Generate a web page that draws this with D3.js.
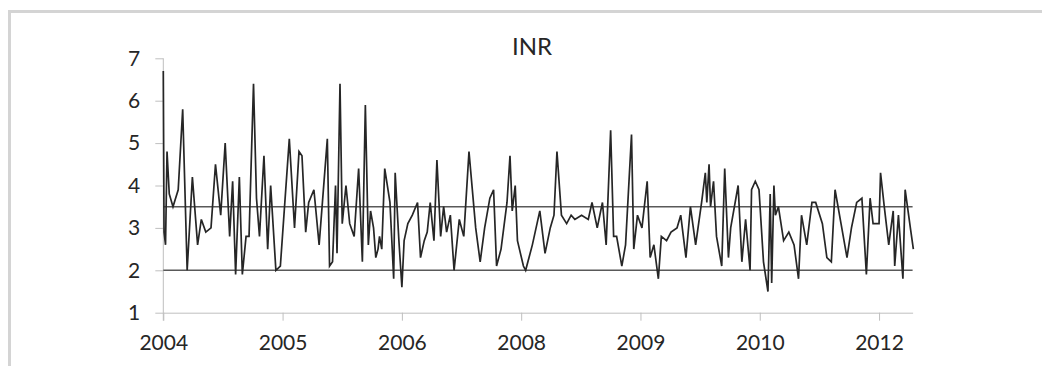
<!DOCTYPE html>
<html>
<head>
<meta charset="utf-8">
<script src="https://cdn.jsdelivr.net/npm/d3@7"></script>
<style>
  body { margin: 0; background: #fff; }
  #chart text { font-family: Lato, "Open Sans", sans-serif; fill: #262626; }
</style>
</head>
<body>
<div id="chart"></div>
<script>
// months since Jan 2004 and INR value
const months = [
  0.0, 0.1, 0.3, 0.5, 0.8, 1.3, 2.0, 2.6, 3.2, 3.9, 4.6, 5.1, 5.7, 6.4, 7.0, 7.7, 8.3, 8.9, 9.3, 9.7,
  10.2, 10.6, 11.1, 11.5, 12.1, 12.5, 12.9, 13.5, 14.0, 14.4, 15.1, 15.7, 16.9, 17.6, 18.2, 18.6, 19.1, 19.5, 20.2, 20.9,
  22.0, 22.3, 22.7, 23.1, 23.3, 23.7, 24.0, 24.5, 25.0, 25.6, 26.2, 26.7, 27.1, 27.5, 27.8, 28.2, 28.5, 28.8, 29.0, 29.3,
  29.7, 30.4, 30.9, 31.1, 31.6, 32.0, 32.3, 32.8, 33.4, 34.1, 34.5, 35.0, 35.4, 35.8, 36.3, 36.7, 37.2, 37.6, 38.0, 38.5,
  39.0, 39.7, 40.3, 41.0, 41.9, 42.5, 43.1, 43.8, 44.3, 44.7, 45.3, 46.1, 46.5, 46.8, 47.2, 47.5, 48.3, 48.6, 49.5, 50.5,
  51.2, 51.9, 52.4, 52.8, 53.4, 54.1, 54.7, 55.2, 56.1, 57.0, 57.5, 58.2, 58.9, 59.4, 60.0, 60.4, 60.8, 61.5, 62.0, 62.8,
  63.1, 63.6, 64.2, 64.9, 65.3, 65.8, 66.4, 66.8, 67.5, 68.1, 68.9, 69.4, 70.1, 70.7, 71.4, 72.2, 72.7, 72.9, 73.2, 73.4,
  73.8, 74.2, 74.9, 75.3, 75.8, 76.1, 77.1, 77.6, 78.1, 78.7, 78.9, 79.4, 79.9, 80.5, 81.1, 81.4, 81.6, 81.9, 82.1, 82.5,
  83.2, 83.9, 84.6, 85.2, 85.6, 86.3, 87.0, 87.5, 88.4, 89.0, 89.6, 90.1, 90.9, 91.7, 92.3, 93.0, 93.7, 94.3, 94.8, 95.2,
  96.0, 96.2, 96.7, 97.3, 97.9, 98.1, 98.6, 99.2, 99.5, 100.2, 100.6
];
const inr = [
  6.7, 2.9, 2.6, 4.8, 3.8, 3.5, 3.9, 5.8, 2.0, 4.2, 2.6, 3.2, 2.9, 3.0, 4.5, 3.3, 5.0, 2.8, 4.1, 1.9,
  4.2, 1.9, 2.8, 2.8, 6.4, 3.7, 2.8, 4.7, 2.5, 4.0, 2.0, 2.1, 5.1, 3.0, 4.8, 4.7, 2.9, 3.6, 3.9, 2.6,
  5.1, 2.1, 2.2, 4.0, 2.4, 6.4, 3.1, 4.0, 3.1, 2.8, 4.4, 2.2, 5.9, 2.6, 3.4, 3.0, 2.3, 2.5, 2.8, 2.5,
  4.4, 3.6, 1.8, 4.3, 2.7, 1.6, 2.7, 3.1, 3.3, 3.6, 2.3, 2.7, 2.9, 3.6, 2.7, 4.6, 2.8, 3.5, 2.9, 3.3,
  2.0, 3.2, 2.8, 4.8, 3.0, 2.2, 3.0, 3.7, 3.9, 2.1, 2.5, 3.6, 4.7, 3.4, 4.0, 2.7, 2.1, 2.0, 2.6, 3.4,
  2.4, 3.0, 3.3, 4.8, 3.3, 3.1, 3.3, 3.2, 3.3, 3.2, 3.6, 3.0, 3.6, 2.6, 5.3, 2.8, 2.8, 2.1, 2.6, 5.2,
  2.5, 3.3, 3.0, 4.1, 2.3, 2.6, 1.8, 2.8, 2.7, 2.9, 3.0, 3.3, 2.3, 3.5, 2.6, 3.6, 4.3, 3.6, 4.5, 3.5,
  4.1, 2.8, 2.1, 4.4, 2.3, 3.0, 4.0, 2.2, 3.2, 2.0, 3.9, 4.1, 3.9, 2.2, 1.5, 3.8, 1.7, 4.0, 3.3, 3.5,
  2.7, 2.9, 2.6, 1.8, 3.3, 2.6, 3.6, 3.6, 3.1, 2.3, 2.2, 3.9, 3.1, 2.3, 3.0, 3.6, 3.7, 1.9, 3.7, 3.1,
  3.1, 4.3, 3.5, 2.6, 3.4, 2.1, 3.3, 1.8, 3.9, 3.0, 2.5
];
const refLevels = [2, 3.5];
const yTicks = [1, 2, 3, 4, 5, 6, 7];
const xTickMonths = [0, 16, 32, 48, 64, 80, 96];
const xTickLabels = ["2004", "2005", "2006", "2008", "2009", "2010", "2012"];

const width = 1042, height = 366;
const svg = d3.select("#chart").append("svg")
  .attr("width", width)
  .attr("height", height);

// chart frame (cut off on the right and bottom)
svg.append("rect")
  .attr("x", 9.5).attr("y", 11.5)
  .attr("width", 1100).attr("height", 400)
  .attr("fill", "none")
  .attr("stroke", "#d4d4d4")
  .attr("stroke-width", 3);

const x = d3.scaleLinear().domain([0, 100.5]).range([163.3, 912.6]);
const y = d3.scaleLinear().domain([1, 7]).range([312.7, 58.3]);

const yAxis = svg.append("g")
  .attr("transform", "translate(163.3,0)")
  .call(d3.axisLeft(y).tickValues(yTicks).tickFormat(d3.format("d"))
    .tickSize(8).tickSizeOuter(0).tickPadding(15));
yAxis.select(".domain").remove();
yAxis.selectAll(".tick line").attr("stroke", "#bfbfbf");
yAxis.selectAll("text").style("font-size", "21px");

const xAxis = svg.append("g")
  .attr("transform", "translate(0,312.7)")
  .call(d3.axisBottom(x).tickValues(xTickMonths).tickFormat((d, i) => xTickLabels[i])
    .tickSize(8).tickSizeOuter(0).tickPadding(14));
xAxis.select(".domain").attr("stroke", "#bfbfbf");
xAxis.selectAll(".tick line").attr("stroke", "#bfbfbf");
xAxis.selectAll("text").style("font-size", "21px");

// vertical axis line
svg.append("line")
  .attr("x1", x(0)).attr("x2", x(0))
  .attr("y1", y(7)).attr("y2", y(1) + 8)
  .attr("stroke", "#bfbfbf");

// reference lines
svg.selectAll(".ref")
  .data(refLevels)
  .enter()
  .append("line")
  .attr("class", "ref")
  .attr("x1", x(0)).attr("x2", x(100.5))
  .attr("y1", d => y(d)).attr("y2", d => y(d))
  .attr("stroke", "#595959")
  .attr("stroke-width", 1.5);

const line = d3.line()
  .x((d, i) => x(months[i]))
  .y(d => y(d));

svg.append("path")
  .datum(inr)
  .attr("d", line)
  .attr("fill", "none")
  .attr("stroke", "#262626")
  .attr("stroke-width", 1.7)
  .attr("stroke-linejoin", "miter");

svg.append("text")
  .attr("x", 532)
  .attr("y", 55)
  .attr("text-anchor", "middle")
  .style("font-size", "24px")
  .text("INR");
</script>
</body>
</html>
